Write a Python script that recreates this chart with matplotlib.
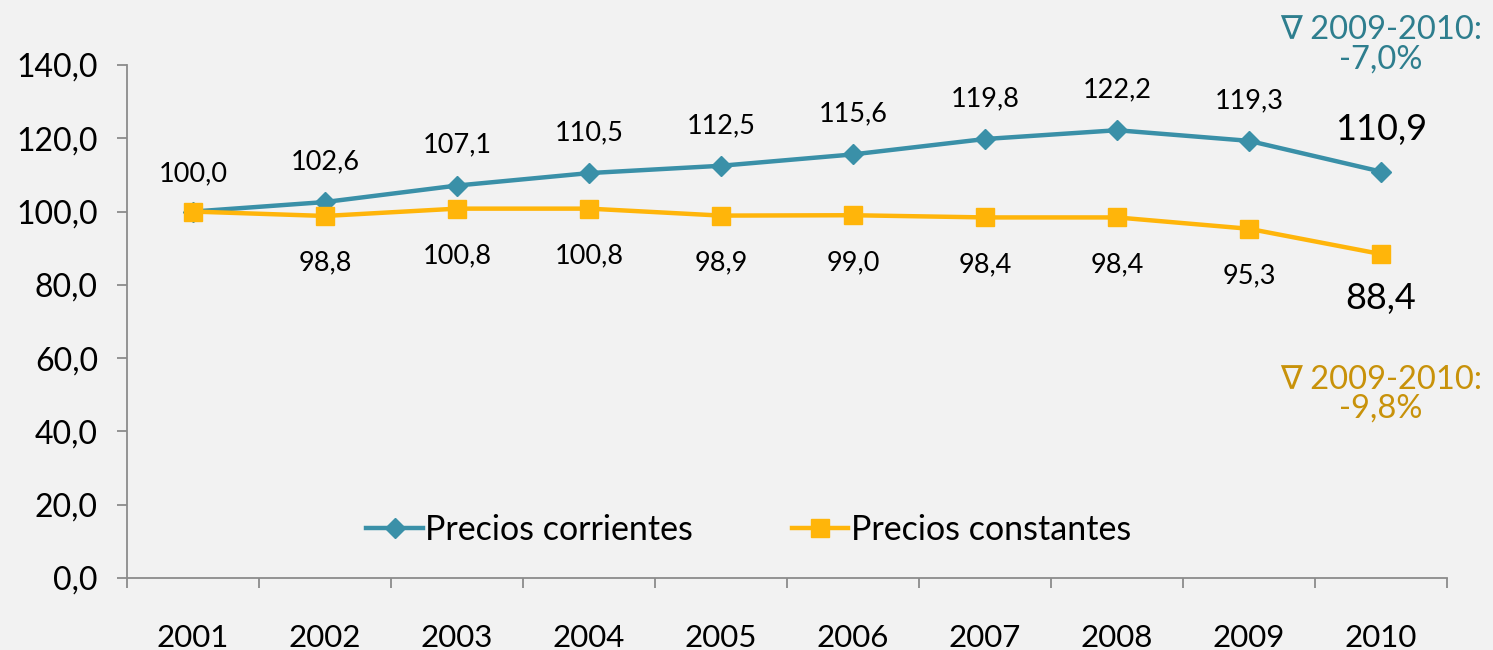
import numpy as np
import matplotlib
matplotlib.use('Agg')
import matplotlib.pyplot as plt
from matplotlib.ticker import FuncFormatter, FixedLocator

plt.rcParams['font.family'] = ['Lato', 'DejaVu Sans']

years = ['2001', '2002', '2003', '2004', '2005', '2006', '2007', '2008', '2009', '2010']
corrientes = [100.0, 102.6, 107.1, 110.5, 112.5, 115.6, 119.8, 122.2, 119.3, 110.9]
constantes = [100.0, 98.8, 100.8, 100.8, 98.9, 99.0, 98.4, 98.4, 95.3, 88.4]
var_corr = '\u2207 2009-2010:\n-7,0%'
var_cons = '\u2207 2009-2010:\n-9,8%'

c_teal = '#3A90A8'
c_gold = '#FFB50A'
bg = '#F2F2F2'

def fmt(v):
	return ('%.1f' % v).replace('.', ',')

fig = plt.figure(figsize=(14.93, 6.5), dpi=100, facecolor=bg)
ax = fig.add_axes([0.0851, 0.1108, 0.8841, 0.7892])
ax.set_facecolor(bg)

x = np.arange(1, len(years) + 1)
ax.plot(x, corrientes, color=c_teal, lw=3.2, marker='D', ms=10, label='Precios corrientes', zorder=3)
ax.plot(x, constantes, color=c_gold, lw=3.2, marker='s', ms=13, label='Precios constantes', zorder=3)

for i in range(len(x)):
	big = (i == len(x) - 1)
	fs = 26 if big else 19.5
	up = 30 if big else 29
	if i == 0:
		up = 27
	down = 32 if big else 34
	ax.annotate(fmt(corrientes[i]), (x[i], corrientes[i]), xytext=(0, up), textcoords='offset points',
		ha='center', va='center', fontsize=fs)
	if i > 0:
		ax.annotate(fmt(constantes[i]), (x[i], constantes[i]), xytext=(0, -down), textcoords='offset points',
			ha='center', va='center', fontsize=fs)

ax.text(x[-1], 145.5, var_corr, ha='center', va='center', fontsize=23.5, color='#2E7E8E',
	linespacing=0.95, clip_on=False)
ax.text(x[-1], 50.2, var_cons, ha='center', va='center', fontsize=23.5, color='#C8920A',
	linespacing=0.95, clip_on=False)

ax.set_xlim(0.5, len(years) + 0.5)
ax.set_ylim(0, 140)
ax.set_yticks(np.arange(0, 141, 20))
ax.yaxis.set_major_formatter(FuncFormatter(lambda v, p: fmt(v)))
ax.set_xticks(x)
ax.set_xticklabels(years)
ax.xaxis.set_minor_locator(FixedLocator(np.arange(0.5, len(years) + 1, 1)))

for s in ['top', 'right']:
	ax.spines[s].set_visible(False)
for s in ['left', 'bottom']:
	ax.spines[s].set_color('#8C8C8C')
	ax.spines[s].set_linewidth(1.3)

ax.tick_params(axis='y', length=7, width=1.3, color='#8C8C8C', labelsize=23, pad=14)
ax.tick_params(axis='x', which='major', length=0, labelsize=22.5, pad=33)
ax.tick_params(axis='x', which='minor', length=7, width=1.3, color='#8C8C8C')

ax.legend(loc='center', bbox_to_anchor=(0.471, 0.094), ncol=2, frameon=False, fontsize=24.5,
	handlelength=1.65, columnspacing=2.9, handletextpad=0.08)

fig.savefig('out.png', dpi=100, facecolor=bg)
